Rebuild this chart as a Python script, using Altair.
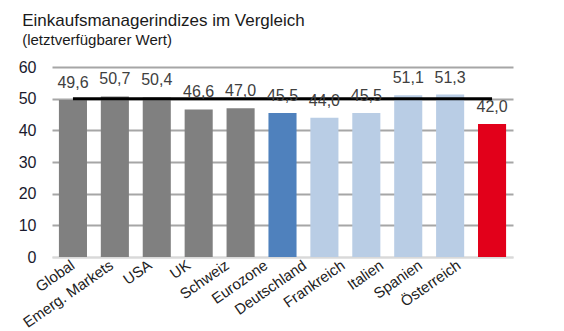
import altair as alt
import pandas as pd

categories = ["Global", "Emerg. Markets", "USA", "UK", "Schweiz", "Eurozone",
              "Deutschland", "Frankreich", "Italien", "Spanien", "Österreich"]
values = [49.6, 50.7, 50.4, 46.6, 47.0, 45.5, 44.0, 45.5, 51.1, 51.3, 42.0]
groups = ["welt", "welt", "welt", "welt", "welt", "ez", "land", "land", "land", "land", "at"]
group_domain = ["welt", "ez", "land", "at"]
group_colors = ["#808080", "#4F81BD", "#B9CDE5", "#E2001A"]
y_ticks = [0, 10, 20, 30, 40, 50, 60]
threshold = 50

df = pd.DataFrame({
    "Land": categories,
    "Wert": values,
    "Gruppe": groups,
    "Label": [f"{v:.1f}".replace(".", ",") for v in values],
    "Schwelle": [threshold] * len(categories),
})

FONT = "Liberation Sans"

# category labels drift slightly left of their bars, as in the original rendering
label_shift = {"condition": [{"test": f"datum.value === '{c}'", "value": -3.3 * i}
                             for i, c in enumerate(categories)],
               "value": 0}

x_scale = alt.Scale(paddingInner=0.33, paddingOuter=0.165)
x_axis = alt.Axis(labelAngle=-35, labelAlign="right", labelBaseline="middle",
                  labelPadding=6, ticks=False, domainColor="#D9D9D9",
                  domainWidth=2, labelFontSize=15, labelColor="#222222",
                  labelFont=FONT, labelOverlap=False, labelOffset=label_shift)
y_scale = alt.Scale(domain=[0, 60], nice=False)
y_axis = alt.Axis(values=y_ticks, domain=False, ticks=False,
                  labelFontSize=16, labelColor="#1a1a2e", labelPadding=16,
                  labelFont=FONT, labelOverlap=False,
                  gridColor={"condition": {"test": "datum.value === 0", "value": "#D9D9D9"},
                             "value": "#A6A6A6"},
                  gridWidth=2)

base = alt.Chart(df)

bars = base.mark_bar().encode(
    x=alt.X("Land:N", sort=categories, title=None, scale=x_scale, axis=x_axis),
    y=alt.Y("Wert:Q", title=None, scale=y_scale, axis=y_axis),
    color=alt.Color("Gruppe:N", scale=alt.Scale(domain=group_domain, range=group_colors),
                    legend=None),
)

line = base.mark_line(color="black", strokeWidth=3).encode(
    x=alt.X("Land:N", sort=categories, title=None, scale=x_scale, axis=x_axis),
    y=alt.Y("Schwelle:Q", title=None, scale=y_scale, axis=y_axis),
)

labels = base.mark_text(baseline="bottom", dy=-9, fontSize=16, color="#404040", font=FONT).encode(
    x=alt.X("Land:N", sort=categories, title=None, scale=x_scale, axis=x_axis),
    y=alt.Y("Wert:Q", title=None, scale=y_scale, axis=y_axis),
    text="Label:N",
)

chart = alt.layer(bars, line, labels).properties(
    width=461, height=190,
    padding={"left": 52, "top": 67, "right": 51, "bottom": 74},
    autosize=alt.AutoSizeParams(type="none"),
    title=alt.Title("Einkaufsmanagerindizes im Vergleich",
                    subtitle="(letztverfügbarer Wert)",
                    anchor="start", dx=4, offset=10, subtitlePadding=3,
                    font=FONT, fontSize=17, fontWeight="normal", color="#1a1a1a",
                    subtitleFont=FONT, subtitleFontSize=15, subtitleColor="#1a1a1a"),
).configure_view(stroke=None)

chart.save("out.html", embed_options={"renderer": "svg", "actions": False})
